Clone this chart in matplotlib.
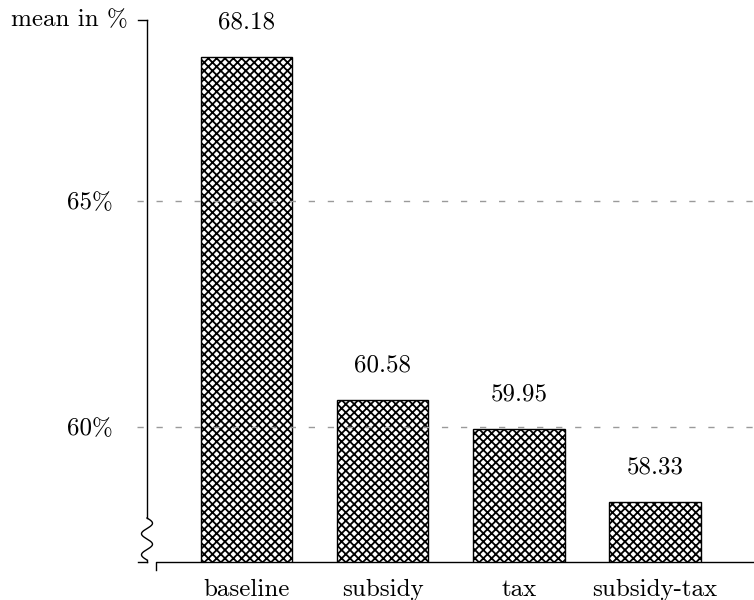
import numpy as np
import matplotlib
matplotlib.use("Agg")
import matplotlib.pyplot as plt
from matplotlib.lines import Line2D

categories = ["baseline", "subsidy", "tax", "subsidy-tax"]
values = [68.18, 60.58, 59.95, 58.33]
value_labels = ["68.18", "60.58", "59.95", "58.33"]
yticks = [60, 65]
ytick_labels = ["60%", "65%"]
ylabel = "mean in %"

plt.rcParams['font.family'] = ['cmr10', 'DejaVu Serif']
plt.rcParams['lines.scale_dashes'] = False
plt.rcParams['hatch.linewidth'] = 1.3
plt.rcParams['axes.unicode_minus'] = False

W, H = 754, 600
fig = plt.figure(figsize=(W / 100, H / 100), dpi=100)
ax_left, ax_right, ax_top, ax_bot = 147, 754, 20, 562
ax = fig.add_axes([ax_left / W, 1 - ax_bot / H, (ax_right - ax_left) / W, (ax_bot - ax_top) / H])
axw = ax_right - ax_left
axh = ax_bot - ax_top

x = np.arange(len(categories))
ax.set_xlim(-0.7325, 3.727)
ax.set_ylim(57, 69)
for s in ax.spines.values():
    s.set_visible(False)

FS = 18
# grid
for yt in yticks:
    ax.plot([-10 / axw, 1], [yt, yt], transform=ax.get_yaxis_transform(),
            color="#9a9a9a", lw=1.0, ls=(0, (4.5, 9.2)), clip_on=False, zorder=3)

ax.bar(x, values, width=0.67, color="white", edgecolor="black", hatch="xxxx",
       linewidth=1.0, zorder=2)

for xi, v, lab in zip(x, values, value_labels):
    ax.annotate(lab, (xi, v), xytext=(0, 20.5), textcoords="offset points",
                ha="center", va="baseline", fontsize=FS)

ax.set_xticks([])
ax.set_yticks(yticks)
ax.set_yticklabels(ytick_labels, fontsize=FS)
ax.tick_params(axis="y", length=0, pad=24.5)

for xi, c in zip(x, categories):
    ax.annotate(c, (xi, 0), xycoords=("data", "axes fraction"), xytext=(0, -24.5),
                textcoords="offset points", ha="center", va="baseline", fontsize=FS)

# y axis line with break squiggle
ty = ax.transAxes
y_sq_top = 1 - (518 - ax_top) / axh
y_sq_bot = 1 - (560 - ax_top) / axh
ax.add_line(Line2D([0, 0], [1, y_sq_top], transform=ty, color="black", lw=1.0, clip_on=False))
t = np.linspace(0, 1, 200)
sx = 5.5 / axw * np.sin(2 * np.pi * 2 * t)
sy = y_sq_top + (y_sq_bot - y_sq_top) * t
ax.add_line(Line2D(sx, sy, transform=ty, color="black", lw=1.0, clip_on=False))
ax.add_line(Line2D([0, 0], [y_sq_bot, 0], transform=ty, color="black", lw=1.0, clip_on=False))
# top tick and bottom tick
ax.add_line(Line2D([-9.5 / axw, 0], [1, 1], transform=ty, color="black", lw=1.0, clip_on=False))
ax.add_line(Line2D([-9.5 / axw, 0], [0, 0], transform=ty, color="black", lw=1.0, clip_on=False))
# x axis with start tick
x0 = (155.7 - ax_left) / axw
ax.add_line(Line2D([x0, x0, 1], [-8 / axh, 0, 0], transform=ty, color="black", lw=1.0, clip_on=False))

ax.annotate(ylabel, (0, 1), xycoords="axes fraction", xytext=(-14, 0),
            textcoords="offset points", ha="right", va="center", fontsize=FS)

fig.savefig("out.png", dpi=100)
